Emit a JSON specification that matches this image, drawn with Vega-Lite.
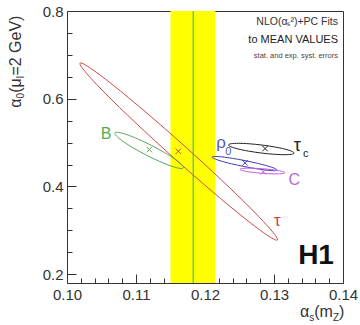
{
  "$schema": "https://vega.github.io/schema/vega-lite/v6.json",
  "width": 276,
  "height": 272,
  "autosize": {"type": "none"},
  "padding": {"left": 67, "top": 11, "right": 17, "bottom": 42},
  "background": "white",
  "config": {
    "view": {"stroke": "#333", "strokeWidth": 1},
    "font": "Liberation Sans",
    "axis": {"domain": false, "grid": false, "labelFont": "Liberation Sans", "labelFontSize": 15, "labelColor": "#333", "tickColor": "#333", "tickWidth": 1, "title": null, "labelFlush": false, "labelOverlap": false}
  },
  "resolve": {"axis": {"x": "independent", "y": "independent"}},
  "datasets": {
    "ell": [
      {"g": "tau", "i": 0, "x": 0.13049, "y": 0.27795},
      {"g": "tau", "i": 1, "x": 0.12970, "y": 0.29846},
      {"g": "tau", "i": 2, "x": 0.12685, "y": 0.34656},
      {"g": "tau", "i": 3, "x": 0.12238, "y": 0.41489},
      {"g": "tau", "i": 4, "x": 0.11697, "y": 0.49307},
      {"g": "tau", "i": 5, "x": 0.11143, "y": 0.56919},
      {"g": "tau", "i": 6, "x": 0.10663, "y": 0.63166},
      {"g": "tau", "i": 7, "x": 0.10328, "y": 0.67098},
      {"g": "tau", "i": 8, "x": 0.10189, "y": 0.68115},
      {"g": "tau", "i": 9, "x": 0.10268, "y": 0.66064},
      {"g": "tau", "i": 10, "x": 0.10553, "y": 0.61254},
      {"g": "tau", "i": 11, "x": 0.11000, "y": 0.54421},
      {"g": "tau", "i": 12, "x": 0.11542, "y": 0.46603},
      {"g": "tau", "i": 13, "x": 0.12095, "y": 0.38991},
      {"g": "tau", "i": 14, "x": 0.12575, "y": 0.32744},
      {"g": "tau", "i": 15, "x": 0.12910, "y": 0.28812},
      {"g": "B", "i": 0, "x": 0.11687, "y": 0.44250},
      {"g": "B", "i": 1, "x": 0.11663, "y": 0.44979},
      {"g": "B", "i": 2, "x": 0.11567, "y": 0.46202},
      {"g": "B", "i": 3, "x": 0.11414, "y": 0.47733},
      {"g": "B", "i": 4, "x": 0.11227, "y": 0.49340},
      {"g": "B", "i": 5, "x": 0.11035, "y": 0.50777},
      {"g": "B", "i": 6, "x": 0.10866, "y": 0.51826},
      {"g": "B", "i": 7, "x": 0.10747, "y": 0.52327},
      {"g": "B", "i": 8, "x": 0.10695, "y": 0.52204},
      {"g": "B", "i": 9, "x": 0.10719, "y": 0.51475},
      {"g": "B", "i": 10, "x": 0.10815, "y": 0.50252},
      {"g": "B", "i": 11, "x": 0.10968, "y": 0.48721},
      {"g": "B", "i": 12, "x": 0.11155, "y": 0.47114},
      {"g": "B", "i": 13, "x": 0.11347, "y": 0.45677},
      {"g": "B", "i": 14, "x": 0.11516, "y": 0.44628},
      {"g": "B", "i": 15, "x": 0.11635, "y": 0.44127},
      {"g": "tauc", "i": 0, "x": 0.13291, "y": 0.47613},
      {"g": "tauc", "i": 1, "x": 0.13257, "y": 0.48029},
      {"g": "tauc", "i": 2, "x": 0.13157, "y": 0.48524},
      {"g": "tauc", "i": 3, "x": 0.13004, "y": 0.49021},
      {"g": "tauc", "i": 4, "x": 0.12823, "y": 0.49447},
      {"g": "tauc", "i": 5, "x": 0.12641, "y": 0.49735},
      {"g": "tauc", "i": 6, "x": 0.12486, "y": 0.49842},
      {"g": "tauc", "i": 7, "x": 0.12380, "y": 0.49751},
      {"g": "tauc", "i": 8, "x": 0.12341, "y": 0.49477},
      {"g": "tauc", "i": 9, "x": 0.12375, "y": 0.49061},
      {"g": "tauc", "i": 10, "x": 0.12475, "y": 0.48566},
      {"g": "tauc", "i": 11, "x": 0.12628, "y": 0.48069},
      {"g": "tauc", "i": 12, "x": 0.12809, "y": 0.47643},
      {"g": "tauc", "i": 13, "x": 0.12991, "y": 0.47355},
      {"g": "tauc", "i": 14, "x": 0.13146, "y": 0.47248},
      {"g": "tauc", "i": 15, "x": 0.13252, "y": 0.47339},
      {"g": "rho", "i": 0, "x": 0.13043, "y": 0.43750},
      {"g": "rho", "i": 1, "x": 0.13011, "y": 0.44118},
      {"g": "rho", "i": 2, "x": 0.12911, "y": 0.44656},
      {"g": "rho", "i": 3, "x": 0.12760, "y": 0.45280},
      {"g": "rho", "i": 4, "x": 0.12581, "y": 0.45896},
      {"g": "rho", "i": 5, "x": 0.12400, "y": 0.46410},
      {"g": "rho", "i": 6, "x": 0.12245, "y": 0.46744},
      {"g": "rho", "i": 7, "x": 0.12140, "y": 0.46848},
      {"g": "rho", "i": 8, "x": 0.12101, "y": 0.46704},
      {"g": "rho", "i": 9, "x": 0.12134, "y": 0.46336},
      {"g": "rho", "i": 10, "x": 0.12233, "y": 0.45798},
      {"g": "rho", "i": 11, "x": 0.12384, "y": 0.45174},
      {"g": "rho", "i": 12, "x": 0.12564, "y": 0.44558},
      {"g": "rho", "i": 13, "x": 0.12744, "y": 0.44044},
      {"g": "rho", "i": 14, "x": 0.12899, "y": 0.43710},
      {"g": "rho", "i": 15, "x": 0.13004, "y": 0.43606},
      {"g": "C", "i": 0, "x": 0.13159, "y": 0.43137},
      {"g": "C", "i": 1, "x": 0.13135, "y": 0.43365},
      {"g": "C", "i": 2, "x": 0.13065, "y": 0.43618},
      {"g": "C", "i": 3, "x": 0.12960, "y": 0.43856},
      {"g": "C", "i": 4, "x": 0.12836, "y": 0.44044},
      {"g": "C", "i": 5, "x": 0.12711, "y": 0.44152},
      {"g": "C", "i": 6, "x": 0.12604, "y": 0.44164},
      {"g": "C", "i": 7, "x": 0.12533, "y": 0.44079},
      {"g": "C", "i": 8, "x": 0.12507, "y": 0.43909},
      {"g": "C", "i": 9, "x": 0.12531, "y": 0.43681},
      {"g": "C", "i": 10, "x": 0.12601, "y": 0.43428},
      {"g": "C", "i": 11, "x": 0.12706, "y": 0.43190},
      {"g": "C", "i": 12, "x": 0.12831, "y": 0.43002},
      {"g": "C", "i": 13, "x": 0.12956, "y": 0.42894},
      {"g": "C", "i": 14, "x": 0.13062, "y": 0.42882},
      {"g": "C", "i": 15, "x": 0.13133, "y": 0.42967}
    ],
    "centers": [
      {"g": "tau", "x": 0.11613, "y": 0.4802},
      {"g": "B", "x": 0.11193, "y": 0.48409},
      {"g": "tauc", "x": 0.1287, "y": 0.48636},
      {"g": "rho", "x": 0.1258, "y": 0.45386},
      {"g": "C", "x": 0.12845, "y": 0.43341}
    ]
  },
  "layer": [
    {
      "data": {"values": [{"lo": 0.115, "hi": 0.1215}]},
      "mark": {"type": "rect", "color": "#ffff00"},
      "encoding": {
        "x": {"field": "lo", "type": "quantitative", "title": null,
          "scale": {"domain": [0.1, 0.14], "nice": false, "zero": false},
          "axis": {"orient": "bottom", "values": [0.1, 0.11, 0.12, 0.13, 0.14], "format": ".2f", "tickSize": -9, "labelPadding": 13}},
        "x2": {"field": "hi"}
      }
    },
    {
      "data": {"values": [{"v": 0.1183}]},
      "mark": {"type": "rule", "color": "#6ccb5f", "strokeWidth": 1.5},
      "encoding": {"x": {"field": "v", "type": "quantitative", "title": null,
        "axis": {"orient": "bottom", "values": [0.102, 0.104, 0.106, 0.108, 0.112, 0.114, 0.116, 0.118, 0.122, 0.124, 0.126, 0.128, 0.132, 0.134, 0.136, 0.138], "labels": false, "tickSize": -5}}}
    },
    {
      "data": {"name": "ell"},
      "mark": {"type": "line", "interpolate": "cardinal-closed", "strokeWidth": 1},
      "encoding": {
        "x": {"field": "x", "type": "quantitative", "title": null, "axis": null},
        "y": {"field": "y", "type": "quantitative", "title": null,
          "scale": {"domain": [0.18, 0.8], "nice": false, "zero": false},
          "axis": {"orient": "left", "values": [0.2, 0.4, 0.6, 0.8], "format": ".1f", "tickSize": -9, "labelPadding": 13}},
        "color": {"field": "g", "type": "nominal", "legend": null,
          "scale": {"domain": ["tau", "B", "tauc", "rho", "C"], "range": ["#d04848", "#5aa85a", "#222222", "#3c3cb4", "#c060e0"]}},
        "detail": {"field": "g"},
        "order": {"field": "i", "type": "quantitative"}
      }
    },
    {
      "data": {"name": "centers"},
      "mark": {"type": "point", "shape": "M-1,-1L1,1M-1,1L1,-1", "filled": false, "size": 30, "strokeWidth": 1, "opacity": 1},
      "encoding": {
        "x": {"field": "x", "type": "quantitative", "title": null, "axis": null},
        "y": {"field": "y", "type": "quantitative", "title": null,
          "axis": {"orient": "left", "values": [0.25, 0.3, 0.35, 0.45, 0.5, 0.55, 0.65, 0.7, 0.75], "labels": false, "tickSize": -5}},
        "color": {"field": "g", "type": "nominal", "legend": null}
      }
    },
    {
      "data": {"values": [{}]},
      "layer": [
        {"mark": {"type": "text", "text": "B", "fontSize": 16, "color": "#4fae4f"},
         "encoding": {"x": {"datum": 0.10565, "type": "quantitative", "axis": null}, "y": {"datum": 0.5198, "type": "quantitative", "axis": null}}},
        {"mark": {"type": "text", "text": "ρ", "fontSize": 17, "color": "#4f5bb4"},
         "encoding": {"x": {"datum": 0.12232, "type": "quantitative", "axis": null}, "y": {"datum": 0.49932, "type": "quantitative", "axis": null}}},
        {"mark": {"type": "text", "text": "0", "fontSize": 11, "color": "#4f5bb4"},
         "encoding": {"x": {"datum": 0.12338, "type": "quantitative", "axis": null}, "y": {"datum": 0.47795, "type": "quantitative", "axis": null}}},
        {"mark": {"type": "text", "text": "τ", "fontSize": 18, "color": "#222222"},
         "encoding": {"x": {"datum": 0.13338, "type": "quantitative", "axis": null}, "y": {"datum": 0.49159, "type": "quantitative", "axis": null}}},
        {"mark": {"type": "text", "text": "c", "fontSize": 11, "color": "#222222"},
         "encoding": {"x": {"datum": 0.13459, "type": "quantitative", "axis": null}, "y": {"datum": 0.475, "type": "quantitative", "axis": null}}},
        {"mark": {"type": "text", "text": "C", "fontSize": 16, "color": "#b56ad8"},
         "encoding": {"x": {"datum": 0.13294, "type": "quantitative", "axis": null}, "y": {"datum": 0.41591, "type": "quantitative", "axis": null}}},
        {"mark": {"type": "text", "text": "τ", "fontSize": 17, "color": "#d23c3c"},
         "encoding": {"x": {"datum": 0.13048, "type": "quantitative", "axis": null}, "y": {"datum": 0.32114, "type": "quantitative", "axis": null}}},
        {"mark": {"type": "text", "text": "H1", "fontSize": 28, "fontWeight": "bold", "color": "#111111"},
         "encoding": {"x": {"datum": 0.13609, "type": "quantitative", "axis": null}, "y": {"datum": 0.2409, "type": "quantitative", "axis": null}}},
        {"mark": {"type": "text", "text": "NLO(αₛ²)+PC Fits", "fontSize": 10.5, "align": "right", "color": "#333333"},
         "encoding": {"x": {"datum": 0.13928, "type": "quantitative", "axis": null}, "y": {"datum": 0.7757, "type": "quantitative", "axis": null}}},
        {"mark": {"type": "text", "text": "to MEAN VALUES", "fontSize": 11, "align": "right", "color": "#222222"},
         "encoding": {"x": {"datum": 0.13928, "type": "quantitative", "axis": null}, "y": {"datum": 0.7341, "type": "quantitative", "axis": null}}},
        {"mark": {"type": "text", "text": "stat. and exp. syst. errors", "fontSize": 7.5, "align": "right", "color": "#444444"},
         "encoding": {"x": {"datum": 0.13928, "type": "quantitative", "axis": null}, "y": {"datum": 0.6977, "type": "quantitative", "axis": null}}},
        {"mark": {"type": "text", "text": "α", "fontSize": 16, "align": "left", "baseline": "alphabetic", "color": "#333333"},
         "encoding": {"x": {"datum": 0.13377, "type": "quantitative", "axis": null}, "y": {"datum": 0.10227, "type": "quantitative", "axis": null}}},
        {"mark": {"type": "text", "text": "s", "fontSize": 10, "align": "left", "baseline": "alphabetic", "color": "#333333"},
         "encoding": {"x": {"datum": 0.13512, "type": "quantitative", "axis": null}, "y": {"datum": 0.09432, "type": "quantitative", "axis": null}}},
        {"mark": {"type": "text", "text": "(m", "fontSize": 16, "align": "left", "baseline": "alphabetic", "color": "#333333"},
         "encoding": {"x": {"datum": 0.13584, "type": "quantitative", "axis": null}, "y": {"datum": 0.10227, "type": "quantitative", "axis": null}}},
        {"mark": {"type": "text", "text": "Z", "fontSize": 10, "align": "left", "baseline": "alphabetic", "color": "#333333"},
         "encoding": {"x": {"datum": 0.13855, "type": "quantitative", "axis": null}, "y": {"datum": 0.09432, "type": "quantitative", "axis": null}}},
        {"mark": {"type": "text", "text": ")", "fontSize": 16, "align": "left", "baseline": "alphabetic", "color": "#333333"},
         "encoding": {"x": {"datum": 0.13943, "type": "quantitative", "axis": null}, "y": {"datum": 0.10227, "type": "quantitative", "axis": null}}},
        {"mark": {"type": "text", "text": "α", "fontSize": 16, "angle": 270, "align": "left", "baseline": "alphabetic", "color": "#333333"},
         "encoding": {"x": {"datum": 0.09333, "type": "quantitative", "axis": null}, "y": {"datum": 0.57955, "type": "quantitative", "axis": null}}},
        {"mark": {"type": "text", "text": "0", "fontSize": 10, "angle": 270, "align": "left", "baseline": "alphabetic", "color": "#333333"},
         "encoding": {"x": {"datum": 0.09384, "type": "quantitative", "axis": null}, "y": {"datum": 0.60068, "type": "quantitative", "axis": null}}},
        {"mark": {"type": "text", "text": "(μ", "fontSize": 16, "angle": 270, "align": "left", "baseline": "alphabetic", "color": "#333333"},
         "encoding": {"x": {"datum": 0.09333, "type": "quantitative", "axis": null}, "y": {"datum": 0.61341, "type": "quantitative", "axis": null}}},
        {"mark": {"type": "text", "text": "I", "fontSize": 10, "angle": 270, "align": "left", "baseline": "alphabetic", "color": "#333333"},
         "encoding": {"x": {"datum": 0.09384, "type": "quantitative", "axis": null}, "y": {"datum": 0.64636, "type": "quantitative", "axis": null}}},
        {"mark": {"type": "text", "text": "=2 GeV)", "fontSize": 16, "angle": 270, "align": "left", "baseline": "alphabetic", "color": "#333333"},
         "encoding": {"x": {"datum": 0.09333, "type": "quantitative", "axis": null}, "y": {"datum": 0.65273, "type": "quantitative", "axis": null}}}
      ]
    }
  ]
}
